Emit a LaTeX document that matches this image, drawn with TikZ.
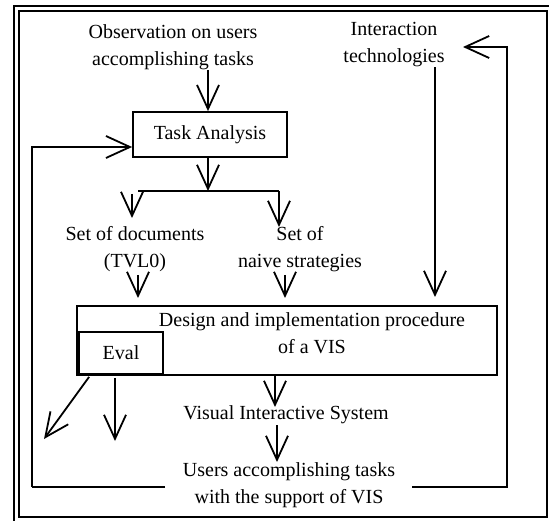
\documentclass[tikz,border=0pt]{standalone}
\usepackage{fontspec}
\setmainfont{Liberation Serif}
\usetikzlibrary{arrows.meta,calc}
\tikzset{
  flow/.style={line width=1.8pt},
  arr/.style={flow,-{Straight Barb[length=24pt,width=22pt,line width=1.8pt]}},
  boxed/.style={draw,line width=1.8pt,inner sep=0pt},
  txt/.style={align=center,inner sep=0pt}
}
\begin{document}
\begin{tikzpicture}[x=1pt,y=-1pt,font=\fontsize{20}{27}\selectfont]
\useasboundingbox (0,0) rectangle (549,521);
% double frame
\draw[line width=2pt] (14,521) -- (14,6) -- (549,6);
\draw[line width=2pt] (19,11) rectangle (547,517);

% labels and boxes
\node[txt] (obs) at (173,47) {Observation on users\\accomplishing tasks};
\node[txt] (tech) at (394,45) {Interaction\\technologies};
\node[boxed,minimum width=154pt,minimum height=45pt] (ta) at (210,134.5) {Task Analysis};
\node[txt] (docs) at (135,249) {Set of documents\\(TVL0)};
\node[txt] (naive) at (300,249) {Set of\\naive strategies};
\node[boxed,minimum width=420pt,minimum height=69pt] (design) at (287,340.5) {};
\node[txt] (dlabel) at (312,333) {Design and implementation procedure\\of a VIS};
\node[boxed,minimum width=84pt,minimum height=42pt] (eval) at (121,353) {Eval};
\node[txt] (vis) at (286,415) {Visual Interactive System};
\node[txt] (users) at (289,485) {Users accomplishing tasks\\with the support of VIS};

% helper points
\coordinate (bl) at (138,191);
\coordinate (br) at (279,191);
\coordinate (lb) at (32,487);
\coordinate (lc) at (32,147);
\coordinate (lgapl) at (165,487);
\coordinate (lgapr) at (412,487);
\coordinate (rb) at (507,487);
\coordinate (rt) at (507,47);
\coordinate (rtip) at (463,47);
\coordinate (diagtip) at (44,439);
\coordinate (vtip) at (115,441);

% top flow
\draw[arr] (obs.south -| 208,0) -- (ta.north -| 208,0);
\draw[arr] (ta.south -| 208,0) -- (208,191);
\draw[flow] (bl) -- (br);
\draw[arr] (132,194) -- (132,218);
\draw[arr] (br) -- (279,227);
\draw[arr] (138,275) -- (138,298);
\draw[arr] (285,275) -- (285,298);
\draw[arr] (tech.south -| 435,0) -- (435,297);

% lower flow
\draw[arr] (design.south -| 275,0) -- (275,407);
\draw[arr] (277,425) -- (277,462);
\draw[arr] ($(eval.south west)+(11,2)$) -- (diagtip);
\draw[arr] ($(eval.south)+(-6,3)$) -- (vtip);

% feedback loops
\draw[flow] (lgapl) -- (lb);
\draw[arr] (lb) -- (lc) -- (lc -| ta.west);
\draw[arr] (lgapr) -- (rb) -- (rt) -- (rtip);
\end{tikzpicture}
\end{document}
